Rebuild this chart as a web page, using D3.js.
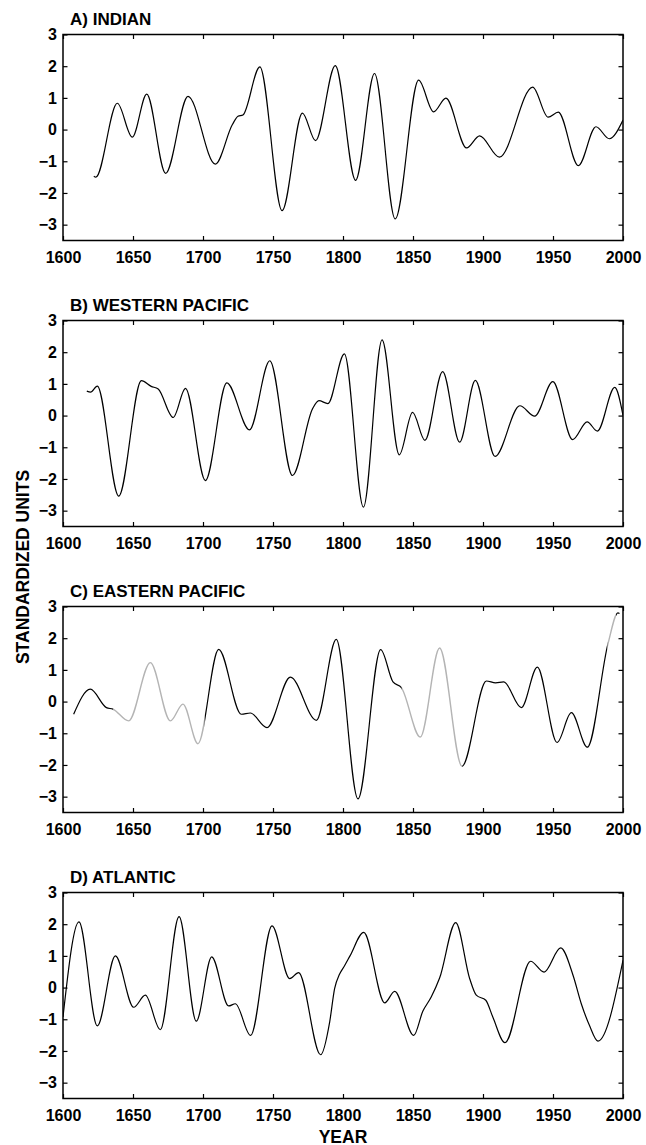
<!DOCTYPE html>
<html>
<head>
<meta charset="utf-8">
<script src="https://cdn.jsdelivr.net/npm/d3@7"></script>
<style>
  html, body { margin: 0; padding: 0; background: #fff; }
  svg { display: block; }
  text { font-family: "Liberation Sans", Arial, Helvetica, sans-serif; font-weight: bold; fill: #000; }
</style>
</head>
<body>
<svg id="chart" width="646" height="1145"></svg>
<script>
// ---------- DATA ----------
const panelTitles = ["A) INDIAN", "B) WESTERN PACIFIC", "C) EASTERN PACIFIC", "D) ATLANTIC"];
const xTickValues = [1600, 1650, 1700, 1750, 1800, 1850, 1900, 1950, 2000];
const yTickValues = [-3, -2, -1, 0, 1, 2, 3];
const yAxisLabel = "STANDARDIZED UNITS";
const xAxisLabel = "YEAR";

const indianYears  = [1622, 1623.5, 1638.8, 1649.5, 1659.8, 1673.3, 1689.3, 1708.8, 1721, 1725, 1728.5, 1740.6, 1756.5, 1771, 1780.4, 1794.5, 1809, 1822.5, 1837.3, 1854, 1864.7, 1873.5, 1888.3, 1897.6, 1911.7, 1935.5, 1946.5, 1953.8, 1968.1, 1980.7, 1990.2, 2000];
const indianValues = [-1.47, -1.5, 0.83, -0.24, 1.12, -1.38, 1.05, -1.09, 0.16, 0.42, 0.46, 1.98, -2.56, 0.52, -0.35, 2.02, -1.6, 1.77, -2.82, 1.56, 0.56, 0.99, -0.58, -0.2, -0.87, 1.34, 0.39, 0.55, -1.14, 0.09, -0.29, 0.3];

const westYears  = [1617, 1619.7, 1624.5, 1639.8, 1656, 1663, 1668, 1678.7, 1687.5, 1701.7, 1717, 1733.2, 1747.7, 1763.9, 1778.3, 1782.8, 1789.2, 1801, 1814.6, 1827.9, 1840.2, 1849.7, 1858.5, 1871.2, 1883.3, 1894.5, 1908.6, 1926.3, 1936.9, 1949.9, 1964, 1974.4, 1981.7, 1994.1, 2000];
const westValues = [0.77, 0.74, 0.93, -2.54, 1.1, 0.92, 0.84, -0.06, 0.86, -2.05, 1.03, -0.45, 1.73, -1.89, 0.22, 0.47, 0.38, 1.95, -2.89, 2.39, -1.24, 0.1, -0.78, 1.39, -0.84, 1.11, -1.29, 0.31, -0.02, 1.07, -0.76, -0.2, -0.49, 0.89, 0.01];

const eastYears  = [1607.6, 1619.5, 1631, 1635.7, 1646.9, 1662.4, 1676.7, 1685.7, 1696.4, 1711.2, 1727.4, 1733.8, 1745.7, 1762.4, 1781, 1795.2, 1810.7, 1826.9, 1835.7, 1841.7, 1855.2, 1869, 1885, 1902.4, 1909, 1914.8, 1927.4, 1938.8, 1952.9, 1963.1, 1974.5, 1989.3, 1996.4, 1997.5];
const eastValues = [-0.4, 0.39, -0.19, -0.24, -0.61, 1.23, -0.61, -0.08, -1.33, 1.65, -0.4, -0.36, -0.82, 0.77, -0.59, 1.96, -3.07, 1.64, 0.62, 0.44, -1.12, 1.69, -2.04, 0.65, 0.59, 0.62, -0.19, 1.09, -1.29, -0.35, -1.44, 1.83, 2.8, 2.78];
const eastGrayRanges = [[1636, 1701], [1842, 1885], [1989, 1995]];

const atlYears  = [1600, 1611.4, 1624.5, 1637.4, 1650.5, 1658.8, 1669.5, 1682.9, 1695.2, 1706.2, 1718.3, 1723.1, 1734, 1749.3, 1761.9, 1768.3, 1784, 1790.5, 1794, 1797.5, 1801, 1805, 1814.8, 1829.8, 1836.9, 1850.5, 1857, 1863, 1869, 1880.5, 1890.5, 1895.2, 1902, 1907, 1915.7, 1934, 1943.6, 1955.5, 1964.3, 1970.2, 1976, 1982.1, 2000];
const atlValues = [-0.93, 2.07, -1.21, 1.0, -0.62, -0.24, -1.33, 2.24, -1.06, 0.97, -0.58, -0.51, -1.51, 1.95, 0.28, 0.47, -2.12, -1.08, -0.03, 0.42, 0.68, 1.0, 1.74, -0.48, -0.12, -1.51, -0.75, -0.3, 0.3, 2.05, 0.28, -0.24, -0.4, -0.93, -1.74, 0.83, 0.49, 1.25, 0.39, -0.51, -1.19, -1.69, 0.86];

const panelYears  = [indianYears, westYears, eastYears, atlYears];
const panelValues = [indianValues, westValues, eastValues, atlValues];
const panelGray   = [[], [], eastGrayRanges, []];

// ---------- LAYOUT ----------
const plotLeft = 63, plotRight = 623;
const firstTop = 34.5, panelStep = 286, plotH = 206;
const xDomain = [1600, 2000], yDomain = [-3.5, 3];

const svg = d3.select("#chart");
const x = d3.scaleLinear().domain(xDomain).range([plotLeft, plotRight]);

function complement(ranges, dom) {
  const out = [];
  let start = dom[0];
  ranges.forEach(r => { if (r[0] > start) out.push([start, r[0]]); start = r[1]; });
  if (start < dom[1]) out.push([start, dom[1]]);
  return out;
}

panelTitles.forEach((title, i) => {
  const top = firstTop + i * panelStep;
  const y = d3.scaleLinear().domain(yDomain).range([top + plotH, top]);
  const g = svg.append("g");

  // title
  g.append("text").attr("x", 70).attr("y", top - 9.5)
    .attr("font-size", 17).text(title);

  // axes
  const tickStyle = sel => {
    sel.select(".domain").remove();
    sel.selectAll(".tick line").attr("stroke", "#000").attr("stroke-width", 1.2);
    sel.selectAll(".tick text").attr("font-size", 16).attr("font-weight", "bold")
      .attr("font-family", '"Liberation Sans", Arial, Helvetica, sans-serif').attr("fill", "#000");
  };
  g.append("g").attr("transform", `translate(0,${top + plotH})`)
    .call(d3.axisBottom(x).tickValues(xTickValues).tickFormat(d3.format("d")).tickSize(-4.5).tickPadding(11.6))
    .call(tickStyle);
  g.append("g").attr("transform", `translate(0,${top})`)
    .call(d3.axisTop(x).tickValues(xTickValues).tickFormat("").tickSize(-4.5))
    .call(tickStyle);
  g.append("g").attr("transform", `translate(${plotLeft},0)`)
    .call(d3.axisLeft(y).tickValues(yTickValues).tickFormat(d => d < 0 ? "\u2212" + Math.abs(d) : d).tickSize(-4.5).tickPadding(6))
    .call(tickStyle);
  g.append("g").attr("transform", `translate(${plotRight},0)`)
    .call(d3.axisRight(y).tickValues(yTickValues).tickFormat("").tickSize(-4.5))
    .call(tickStyle);

  // frame
  g.append("rect").attr("x", plotLeft).attr("y", top)
    .attr("width", plotRight - plotLeft).attr("height", plotH)
    .attr("fill", "none").attr("stroke", "#000").attr("stroke-width", 1.5);

  // data line
  const pts = panelYears[i].map((yr, k) => [yr, panelValues[i][k]]);
  const line = d3.line().x(d => x(d[0])).y(d => y(d[1])).curve(d3.curveMonotoneX);
  const gray = panelGray[i];
  const black = complement(gray, xDomain);

  const mkClip = (id, ranges) => {
    const cp = svg.append("clipPath").attr("id", id);
    ranges.forEach(r => cp.append("rect")
      .attr("x", x(r[0])).attr("width", x(r[1]) - x(r[0]))
      .attr("y", top - 10).attr("height", plotH + 20));
  };
  mkClip("blk" + i, black);
  g.append("path").datum(pts).attr("d", line)
    .attr("fill", "none").attr("stroke", "#000").attr("stroke-width", 1.2)
    .attr("clip-path", `url(#blk${i})`);
  if (gray.length) {
    mkClip("gry" + i, gray);
    g.append("path").datum(pts).attr("d", line)
      .attr("fill", "none").attr("stroke", "#b4b4b4").attr("stroke-width", 1.4)
      .attr("clip-path", `url(#gry${i})`);
  }
});

// axis titles
svg.append("text").attr("x", (plotLeft + plotRight) / 2).attr("y", 1142.5)
  .attr("text-anchor", "middle").attr("font-size", 17.5).text(xAxisLabel);
svg.append("text").attr("transform", "translate(29,567) rotate(-90)")
  .attr("text-anchor", "middle").attr("font-size", 17.5).text(yAxisLabel);
</script>
</body>
</html>
